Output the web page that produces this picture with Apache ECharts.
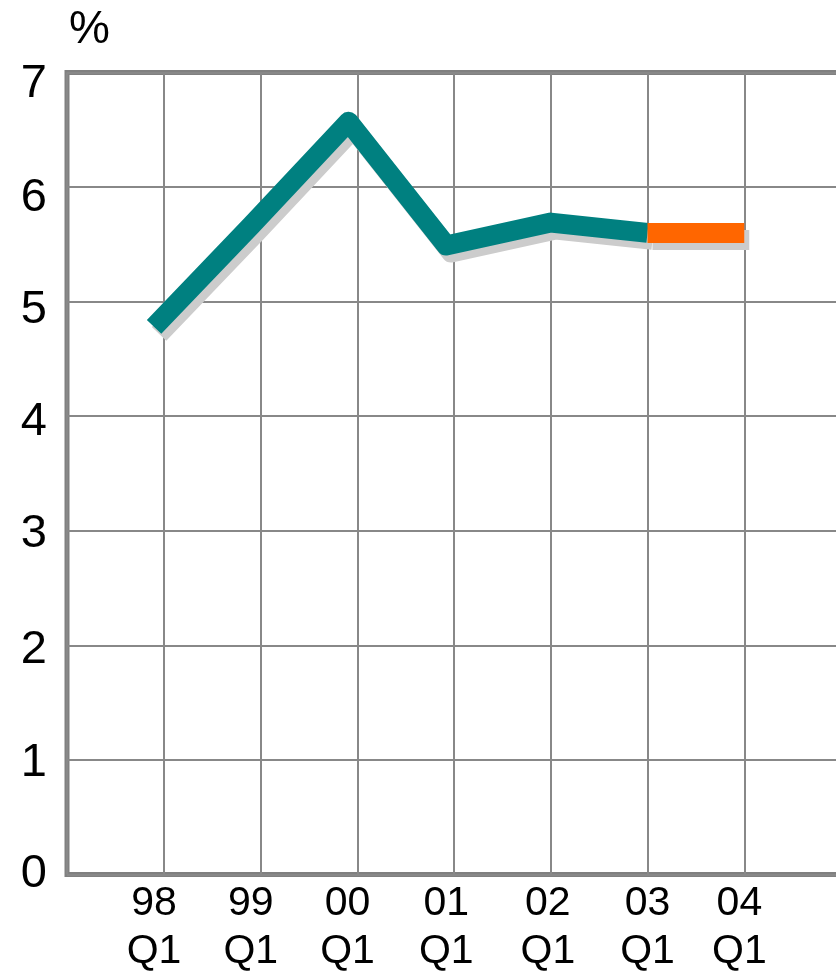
<!DOCTYPE html>
<html>
<head>
<meta charset="utf-8">
<script src="https://cdn.jsdelivr.net/npm/echarts@6/dist/echarts.min.js"></script>
<style>
  html, body { margin: 0; padding: 0; background: #fff; }
  #container { width: 836px; height: 972px; }
</style>
</head>
<body>
<div id="container"></div>
<script>
// x tick labels and where they sit (tick-index units, 98 Q1 grid line = 0)
let xLabels = ['98\nQ1', '99\nQ1', '00\nQ1', '01\nQ1', '02\nQ1', '03\nQ1', '04\nQ1'];
let xLabelPos = [-0.1, 0.9, 1.9, 2.92, 3.97, 5.0, 5.95];
// y tick labels and where they sit (they drift slightly off the grid lines)
let yLabels = ['0', '1', '2', '3', '4', '5', '6', '7'];
let yLabelPos = [0, 0.974, 1.96, 2.972, 3.95, 4.927, 5.907, 6.895];
// observed points
let histX = [-0.1, 0.91, 1.91, 2.92, 4.0, 5.0];
let histY = [4.78, 5.67, 6.57, 5.49, 5.69, 5.60];
// projection segment
let projX = [5.0, 6.0];
let projY = [5.60, 5.60];

function pairs(xs, ys) {
    return xs.map(function (x, i) { return [x, ys[i]]; });
}

let dom = document.getElementById('container');
let myChart = echarts.init(dom);
let font = '"Liberation Sans", Arial, sans-serif';

let shadow = {
    shadowColor: '#cccccc',
    shadowBlur: 0,
    shadowOffsetX: 5,
    shadowOffsetY: 7
};

let option = {
    animation: false,
    title: {
        text: '%',
        left: 64,
        top: 2,
        textStyle: { fontSize: 46, fontWeight: 'normal', color: '#000', fontFamily: font }
    },
    grid: {
        left: 67,
        top: 72.5,
        bottom: 97.5,
        right: -5,
        outerBoundsMode: 'none',
        containLabel: false,
        show: true,
        borderColor: '#808080',
        borderWidth: 5,
        backgroundColor: 'transparent'
    },
    xAxis: {
        type: 'value',
        min: -1,
        max: 7,
        interval: 1,
        axisLine: { show: false },
        axisTick: { show: false },
        splitLine: { show: true, lineStyle: { color: '#888888', width: 2 } },
        axisLabel: {
            customValues: xLabelPos,
            margin: 5,
            fontSize: 41,
            lineHeight: 48,
            color: '#000',
            fontFamily: font,
            formatter: function (v) {
                let i = xLabelPos.indexOf(v);
                return i >= 0 ? xLabels[i] : '';
            }
        }
    },
    yAxis: {
        type: 'value',
        min: 0,
        max: 7,
        interval: 1,
        axisLine: { show: false },
        axisTick: { show: false },
        splitLine: { show: true, lineStyle: { color: '#888888', width: 2 } },
        axisLabel: {
            customValues: yLabelPos,
            margin: 20,
            fontSize: 47,
            color: '#000',
            fontFamily: font,
            formatter: function (v) {
                let i = yLabelPos.indexOf(v);
                return i >= 0 ? yLabels[i] : '';
            }
        }
    },
    series: [{
        type: 'line',
        data: pairs(histX, histY),
        symbol: 'none',
        silent: true,
        lineStyle: Object.assign({ color: '#008080', width: 20, cap: 'butt', join: 'round' }, shadow)
    }, {
        type: 'line',
        data: pairs(projX, projY),
        symbol: 'none',
        silent: true,
        lineStyle: Object.assign({ color: '#ff6600', width: 20, cap: 'butt', join: 'round' }, shadow)
    }]
};

myChart.setOption(option);
</script>
</body>
</html>
